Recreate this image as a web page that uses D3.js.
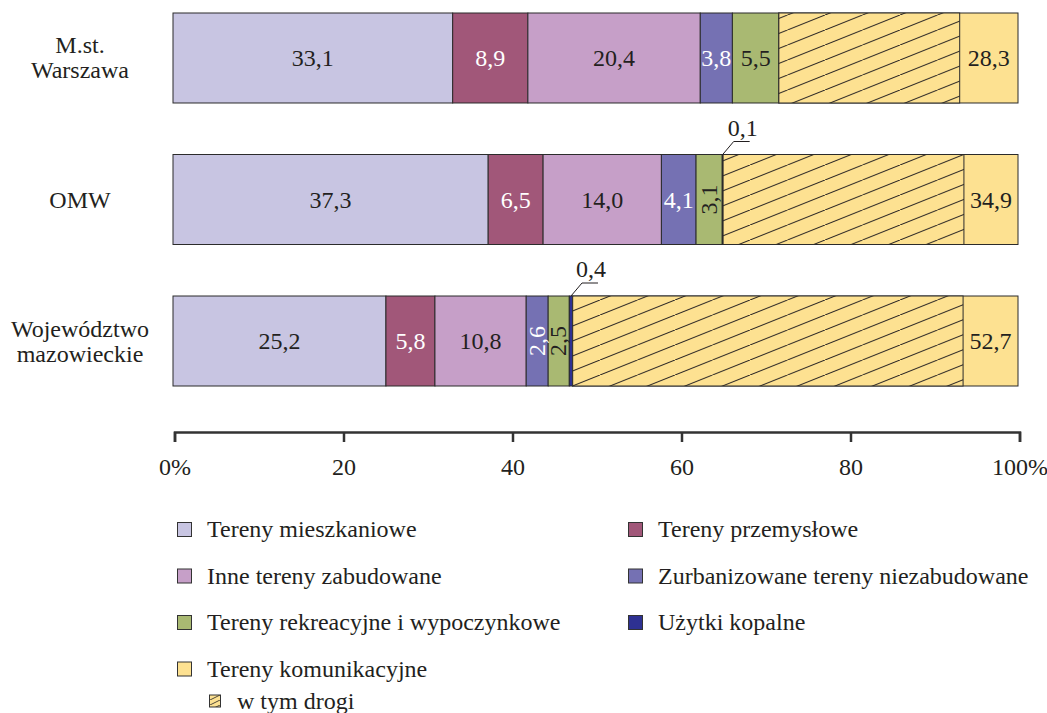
<!DOCTYPE html>
<html>
<head>
<meta charset="utf-8">
<script src="https://cdn.jsdelivr.net/npm/d3@7"></script>
<style>
  body { margin: 0; background: #fff; }
  svg text { font-family: "Liberation Serif", "Times New Roman", serif; fill: #231f20; }
</style>
</head>
<body>
<svg id="chart" width="1047" height="713"></svg>
<script>

// categories (one entry per bar, split into lines for the left labels)
var categories = ["M.st. Warszawa", "OMW", "Województwo mazowieckie"];
var categoryLines = [["M.st.", "Warszawa"], ["OMW"], ["Województwo", "mazowieckie"]];

// series, in stacking order
var seriesNames = [
  "Tereny mieszkaniowe",
  "Tereny przemysłowe",
  "Inne tereny zabudowane",
  "Zurbanizowane tereny niezabudowane",
  "Tereny rekreacyjne i wypoczynkowe",
  "Użytki kopalne",
  "Tereny komunikacyjne"
];
var mieszkaniowe  = [33.1, 37.3, 25.2];
var przemyslowe   = [8.9, 6.5, 5.8];
var inneZabud     = [20.4, 14.0, 10.8];
var zurbanizowane = [3.8, 4.1, 2.6];
var rekreacyjne   = [5.5, 3.1, 2.5];
var kopalne       = [0, 0.1, 0.4];
var komunikacyjne = [28.3, 34.9, 52.7];
// part of komunikacyjne: roads
var drogi         = [21.4, 28.5, 46.2];
var drogiLabel = "w tym drogi";

var tickValues = [0, 20, 40, 60, 80, 100];

var seriesValues = [mieszkaniowe, przemyslowe, inneZabud, zurbanizowane, rekreacyjne, kopalne, komunikacyjne];
var colors = ["#c8c5e2", "#a15779", "#c69fc8", "#7571b3", "#a9b972", "#2e3192", "#fde191"];
var whiteText = [false, true, false, true, false, false, false];

var fs = "24px";
var fmt = function(v) { return d3.format(".1f")(v).replace(".", ","); };

var svg = d3.select("#chart");

var x = d3.scaleLinear().domain([0, 100]).range([173, 1018]);
var y = d3.scaleBand().domain(categories).range([13, 386]).paddingInner(0.364).paddingOuter(0);

// hatch patterns
var defs = svg.append("defs");
var pat = defs.append("pattern")
    .attr("id", "hatch")
    .attr("patternUnits", "userSpaceOnUse")
    .attr("width", 37.5)
    .attr("height", 15);
pat.append("rect").attr("width", 37.5).attr("height", 15).attr("fill", colors[6]);
pat.append("path")
    .attr("d", "M-3.75,16.5 L41.25,-1.5")
    .attr("stroke", "#231f20")
    .attr("stroke-width", 1);

var patSmall = defs.append("pattern")
    .attr("id", "hatchSmall")
    .attr("patternUnits", "userSpaceOnUse")
    .attr("width", 10)
    .attr("height", 5);
patSmall.append("rect").attr("width", 10).attr("height", 5).attr("fill", colors[6]);
patSmall.append("path")
    .attr("d", "M-1,5.5 L11,-0.5")
    .attr("stroke", "#231f20")
    .attr("stroke-width", 0.8);

// stacked segments
var stack = d3.stack()
    .keys(d3.range(seriesNames.length))
    .value(function(d, k) { return seriesValues[k][d]; });
var stacked = stack(d3.range(categories.length));

var layers = svg.selectAll("g.layer")
    .data(stacked)
  .enter().append("g")
    .attr("class", "layer");

layers.selectAll("rect")
    .data(function(s) { return s.map(function(d, i) { return {k: s.key, i: i, x0: d[0], x1: d[1]}; }); })
  .enter().filter(function(d) { return d.x1 > d.x0; }).append("rect")
    .attr("x", function(d) { return x(d.x0); })
    .attr("y", function(d) { return y(categories[d.i]); })
    .attr("width", function(d) { return x(d.x1) - x(d.x0); })
    .attr("height", y.bandwidth())
    .attr("fill", function(d) { return colors[d.k]; })
    .attr("stroke", "#2b2b2b")
    .attr("stroke-width", 1);

// hatched roads part, starts where komunikacyjne starts
var komLayer = stacked[6];
svg.selectAll("rect.drogi")
    .data(drogi)
  .enter().append("rect")
    .attr("class", "drogi")
    .attr("x", function(d, i) { return x(komLayer[i][0]); })
    .attr("y", function(d, i) { return y(categories[i]); })
    .attr("width", function(d, i) { return x(komLayer[i][0] + d) - x(komLayer[i][0]); })
    .attr("height", y.bandwidth())
    .attr("fill", "url(#hatch)")
    .attr("stroke", "#2b2b2b")
    .attr("stroke-width", 1);

// value labels inside segments
stacked.forEach(function(s) {
  var k = s.key;
  s.forEach(function(d, i) {
    var v = seriesValues[k][i];
    if (!(v > 0)) return;
    var cy = y(categories[i]) + y.bandwidth() / 2;
    var color = whiteText[k] ? "#fff" : "#231f20";
    if (k === 6) {
      // komunikacyjne label sits in the plain part, right of the roads
      var cx = (x(d[0] + drogi[i]) + x(d[1])) / 2;
      svg.append("text").attr("x", cx).attr("y", cy + 8)
          .attr("text-anchor", "middle").style("font-size", fs).style("fill", color)
          .text(fmt(v));
    } else if (v < 1) {
      // tiny one: leader line and label above the bar
      var lx = (x(d[0]) + x(d[1])) / 2, ly = y(categories[i]);
      svg.append("path")
          .attr("d", "M" + lx + "," + ly + " L" + (lx + 11) + "," + (ly - 13) + " L" + (lx + 27) + "," + (ly - 13))
          .attr("fill", "none").attr("stroke", "#231f20").attr("stroke-width", 1);
      svg.append("text").attr("x", lx + 20).attr("y", ly - 19)
          .attr("text-anchor", "middle").style("font-size", fs)
          .text(fmt(v));
    } else if (v < 3.5) {
      var mx = (x(d[0]) + x(d[1])) / 2;
      svg.append("text")
          .attr("transform", "translate(" + (mx + 7.5) + "," + cy + ") rotate(-90)")
          .attr("text-anchor", "middle").style("font-size", fs).style("fill", color)
          .text(fmt(v));
    } else {
      svg.append("text").attr("x", (x(d[0]) + x(d[1])) / 2).attr("y", cy + 8)
          .attr("text-anchor", "middle").style("font-size", fs).style("fill", color)
          .text(fmt(v));
    }
  });
});

// category labels
categories.forEach(function(c, i) {
  var lines = categoryLines[i];
  var cy = y(c) + y.bandwidth() / 2;
  var t = svg.append("text")
      .attr("x", 80)
      .attr("y", cy + 8 - (lines.length - 1) * 12.5)
      .attr("text-anchor", "middle")
      .style("font-size", fs);
  lines.forEach(function(l, j) {
    t.append("tspan").attr("x", 80).attr("dy", j === 0 ? 0 : 25).text(l);
  });
});

// axis
var axis = d3.axisBottom(x)
    .tickValues(tickValues)
    .tickSize(10)
    .tickSizeOuter(10)
    .tickPadding(16)
    .tickFormat(function(d) { return (d === 0 || d === 100) ? d + "%" : d; });

var gAxis = svg.append("g")
    .attr("transform", "translate(1.5,432)")
    .call(axis);
gAxis.select(".domain").attr("stroke", "#333").attr("stroke-width", 2.5);
gAxis.selectAll(".tick line").attr("stroke", "#333").attr("stroke-width", 2.5);
gAxis.selectAll(".tick text")
    .style("font-family", "'Liberation Serif', serif")
    .style("font-size", fs)
    .attr("fill", "#231f20");

// legend
var legend = svg.append("g").attr("class", "legend");
seriesNames.forEach(function(name, k) {
  var col = k % 2, row = Math.floor(k / 2);
  var lx = col === 0 ? 177 : 628;
  var ly = 522 + row * 46.5;
  legend.append("rect")
      .attr("x", lx + 0.5).attr("y", ly + 0.5)
      .attr("width", 14).attr("height", 14)
      .attr("fill", colors[k])
      .attr("stroke", "#333").attr("stroke-width", 1);
  legend.append("text")
      .attr("x", lx + 30).attr("y", ly + 15)
      .style("font-size", fs)
      .text(name);
});
var dy = 522 + 3 * 46.5 + 33;
legend.append("rect")
    .attr("x", 209.5).attr("y", dy + 0.5)
    .attr("width", 11).attr("height", 12)
    .attr("fill", "url(#hatchSmall)")
    .attr("stroke", "#333").attr("stroke-width", 1);
legend.append("text")
    .attr("x", 237).attr("y", dy + 14)
    .style("font-size", fs)
    .text(drogiLabel);

</script>
</body>
</html>
